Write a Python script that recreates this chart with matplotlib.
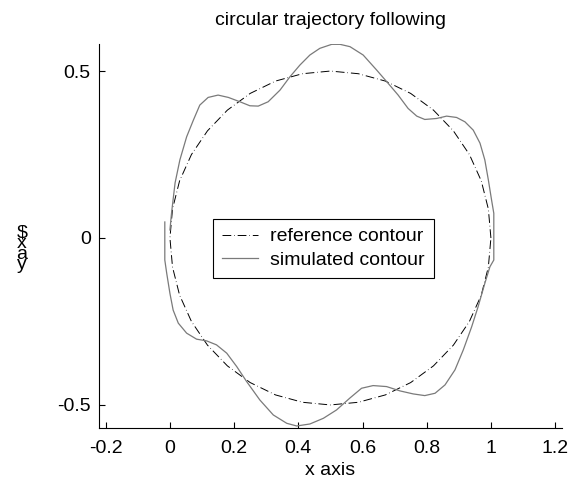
import numpy as np
import matplotlib
matplotlib.use("Agg")
import matplotlib.pyplot as plt

plt.rcParams['font.family'] = ['Liberation Sans', 'DejaVu Sans']

# reference contour (circle, every 10 degrees)
ref_x = [1.000, 0.992, 0.970, 0.933, 0.883, 0.821, 0.750, 0.671, 0.587, 0.500,
         0.413, 0.329, 0.250, 0.179, 0.117, 0.067, 0.030, 0.008, 0.000,
         0.008, 0.030, 0.067, 0.117, 0.179, 0.250, 0.329, 0.413, 0.500,
         0.587, 0.671, 0.750, 0.821, 0.883, 0.933, 0.970, 0.992, 1.000]
ref_y = [0.000, 0.087, 0.171, 0.250, 0.321, 0.383, 0.433, 0.470, 0.492, 0.500,
         0.492, 0.470, 0.433, 0.383, 0.321, 0.250, 0.171, 0.087, 0.000,
         -0.087, -0.171, -0.250, -0.321, -0.383, -0.433, -0.470, -0.492, -0.500,
         -0.492, -0.470, -0.433, -0.383, -0.321, -0.250, -0.171, -0.087, 0.000]

# simulated contour
sim_x = [-0.016, -0.016, -0.010, 0.000, 0.010, 0.026, 0.052, 0.083, 0.114, 0.145,
         0.177, 0.208, 0.239, 0.280, 0.322, 0.364, 0.395, 0.436, 0.478, 0.519,
         0.561, 0.597, 0.633, 0.675, 0.717, 0.758, 0.794, 0.826, 0.857, 0.888,
         0.914, 0.940, 0.960, 0.981, 0.997, 1.009, 1.009, 1.002, 0.992, 0.981,
         0.966, 0.945, 0.919, 0.893, 0.862, 0.831, 0.794, 0.769, 0.742, 0.711,
         0.680, 0.644, 0.602, 0.561, 0.530, 0.504, 0.467, 0.436, 0.405, 0.374,
         0.343, 0.306, 0.275, 0.249, 0.218, 0.182, 0.150, 0.119, 0.093, 0.073,
         0.052, 0.031, 0.016, 0.005, 0.000]
sim_y = [0.048, -0.066, -0.106, -0.166, -0.216, -0.255, -0.285, -0.303, -0.308, -0.320,
         -0.345, -0.385, -0.430, -0.485, -0.530, -0.555, -0.563, -0.557, -0.540, -0.515,
         -0.479, -0.450, -0.442, -0.445, -0.458, -0.467, -0.472, -0.465, -0.440, -0.395,
         -0.335, -0.266, -0.206, -0.136, -0.086, -0.066, 0.074, 0.114, 0.174, 0.234,
         0.284, 0.323, 0.348, 0.361, 0.365, 0.358, 0.355, 0.365, 0.388, 0.428,
         0.463, 0.503, 0.548, 0.573, 0.580, 0.580, 0.568, 0.548, 0.518, 0.483,
         0.443, 0.408, 0.395, 0.396, 0.408, 0.421, 0.428, 0.421, 0.398, 0.353,
         0.303, 0.234, 0.165, 0.075, 0.024]

x_ticks = [-0.2, 0, 0.2, 0.4, 0.6, 0.8, 1, 1.2]
x_tick_labels = ['-0.2', '0', '0.2', '0.4', '0.6', '0.8', '1', '1.2']
y_ticks = [-0.5, 0, 0.5]
y_tick_labels = ['-0.5', '0', '0.5']

fig = plt.figure(figsize=(5.8, 4.83), dpi=100)
ax = fig.add_axes([0.1707, 0.1139, 0.798, 0.795])

ax.plot(ref_x, ref_y, color='black', lw=0.7, linestyle=(0, (9, 3, 0.6, 3)),
        label='reference contour')
ax.plot(sim_x, sim_y, color='#7a7a7a', lw=0.9, label='simulated contour')

ax.set_xlim(-0.221, 1.221)
ax.set_ylim(-0.569, 0.581)
ax.set_xticks(x_ticks)
ax.set_xticklabels(x_tick_labels)
ax.set_yticks(y_ticks)
ax.set_yticklabels(y_tick_labels)
ax.tick_params(direction='in', length=4, width=0.8, labelsize=14)
ax.tick_params(axis='x', pad=9)
ax.tick_params(axis='y', pad=6)
for side in ['top', 'right']:
    ax.spines[side].set_visible(False)
for side in ['left', 'bottom']:
    ax.spines[side].set_linewidth(0.8)

ax.set_title('circular trajectory following', fontsize=14, pad=14)
ax.set_xlabel('x axis', fontsize=14, labelpad=3)
# y label comes out as stacked, overlapping letters in the original
fig.text(22 / 580, 1 - 249 / 483, '$\nx\na\ny', fontsize=14, ha='center', va='center',
         linespacing=0.5, parse_math=False)

leg = ax.legend(loc='upper left', bbox_to_anchor=(213 / 580, 1 - 219 / 483),
                bbox_transform=fig.transFigure, borderaxespad=0, fontsize=14,
                fancybox=False, edgecolor='black', framealpha=1,
                handlelength=1.85, handletextpad=0.65, labelspacing=0.3,
                borderpad=0.45)
leg.get_frame().set_linewidth(0.8)

fig.savefig('out.png', dpi=100)
